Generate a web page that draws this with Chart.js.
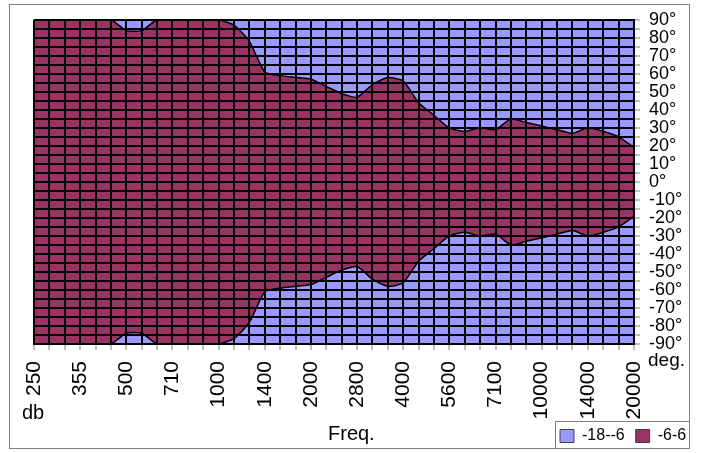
<!DOCTYPE html>
<html lang="en">
<head>
<meta charset="UTF-8">
<title>Directivity</title>
<script src="https://cdn.jsdelivr.net/npm/chart.js"></script>
<style>
  body { margin: 0; background: #fff; }
</style>
</head>
<body>
<canvas id="dirChart" width="701" height="453"></canvas>
<script>
// frequency labels on the axis, one label every third column
const freqLabels = ['250', '355', '500', '710', '1000', '1400', '2000', '2800', '4000', '5600', '7100', '10000', '14000', '20000'];
const colsPerLabel = 3;
// angle (deg) where the -6 dB level ends, upper half, one per column
const edgeAngle = [90, 90, 90, 90, 90, 90, 84, 84, 90, 90,
                   90, 90, 90, 87, 78, 61, 59, 58, 57, 53,
                   49, 47, 54, 58, 56, 44, 37, 30, 28, 30,
                   29, 35, 33, 31, 29, 27, 30, 28, 25, 19];
const angleMin = -90;
const angleMax = 90;
const levelNames = ['-18--6', '-6-6'];
const levelColors = ['#9999ff', '#993366'];

const columns = Array.from({length: (freqLabels.length - 1) * colsPerLabel + 1},
    (_, i) => i % colsPerLabel ? '' : freqLabels[i / colsPerLabel]);

Chart.defaults.font.family = 'Arial, "Liberation Sans", sans-serif';
Chart.defaults.color = '#000';

// grid goes on top of the filled areas
const gridStyle = { z: 1, color: '#000', lineWidth: 2, tickColor: '#808080', tickWidth: 1, tickLength: 6 };

// white page, outer frame, legend box and loose labels
const decor = {
    id: 'decor',
    beforeDraw(chart) {
        const c = chart.ctx;
        c.save();
        c.fillStyle = '#fff';
        c.fillRect(0, 0, chart.width, chart.height);
        c.restore();
    },
    afterLayout(chart) {
        // put the legend in its little box at the bottom right
        // (right edge kept wide so the two items stay on one row)
        const lg = chart.legend;
        lg.left = 549; lg.right = chart.width + 60;
        lg.top = 417; lg.bottom = 448;
        lg.width = lg.right - lg.left;
        lg.height = lg.bottom - lg.top;
    },
    afterDraw(chart) {
        const c = chart.ctx;
        c.save();
        c.strokeStyle = '#7f7f7f';
        c.lineWidth = 1;
        c.strokeRect(9.5, 4.5, 680, 444);
        c.strokeRect(555.5, 421.5, 134, 27);
        c.fillStyle = '#000';
        c.textBaseline = 'middle';
        c.font = '20px Arial, "Liberation Sans", sans-serif';
        c.fillText('db', 22, 413);
        c.fillText('Freq.', 328, 434);
        c.font = '19px Arial, "Liberation Sans", sans-serif';
        c.fillText('deg.', 648, 361);
        c.restore();
    }
};

const ctx = document.getElementById('dirChart').getContext('2d');
new Chart(ctx, {
    type: 'line',
    data: {
        labels: columns,
        datasets: [{
            label: levelNames[1],
            data: edgeAngle,
            fill: '+1',
            backgroundColor: levelColors[1],
            borderColor: '#000',
            borderWidth: 1.5,
            pointRadius: 0,
            tension: 0.2
        }, {
            label: 'lower edge',
            data: edgeAngle.map(v => -v),
            fill: false,
            borderColor: '#000',
            borderWidth: 1.5,
            pointRadius: 0,
            tension: 0.2
        }, {
            label: levelNames[0],
            data: columns.map(() => angleMax),
            fill: 'start',
            backgroundColor: levelColors[0],
            borderColor: levelColors[0],
            borderWidth: 0,
            pointRadius: 0
        }]
    },
    options: {
        responsive: false,
        animation: false,
        layout: { padding: { left: 34, top: 19, right: 7, bottom: 0 } },
        scales: {
            x: {
                grid: gridStyle,
                border: { z: 1, color: '#000', width: 2 },
                ticks: {
                    autoSkip: false,
                    minRotation: 90,
                    maxRotation: 90,
                    padding: 11,
                    font: { size: 21 }
                },
                afterFit: s => { s.height = 108; }
            },
            y: {
                position: 'right',
                min: angleMin,
                max: angleMax,
                grid: gridStyle,
                border: { z: 1, color: '#000', width: 2 },
                ticks: {
                    stepSize: 5,
                    autoSkip: false,
                    padding: 9,
                    font: { size: 18 },
                    callback: v => v % 10 === 0 ? v + '°' : ''
                },
                afterFit: s => { s.width = 60; }
            }
        },
        plugins: {
            filler: { drawTime: 'beforeDatasetsDraw' },
            tooltip: { enabled: false },
            legend: {
                position: 'bottom',
                align: 'start',
                maxHeight: 1,
                labels: {
                    boxWidth: 14,
                    boxHeight: 13,
                    padding: 11,
                    font: { size: 16 },
                    filter: item => item.datasetIndex !== 1,
                    sort: (a, b) => b.datasetIndex - a.datasetIndex,
                    generateLabels: chart => Chart.defaults.plugins.legend.labels.generateLabels(chart)
                        .map(item => Object.assign(item, { strokeStyle: '#404040', lineWidth: 1 }))
                }
            }
        }
    },
    plugins: [decor]
});
</script>
</body>
</html>
